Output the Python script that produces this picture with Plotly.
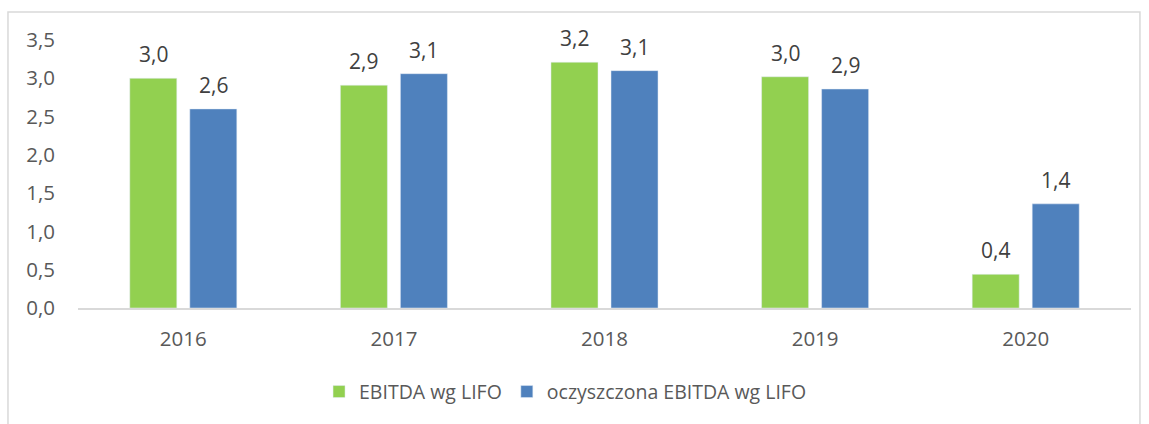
import plotly.graph_objects as go

years = ["2016", "2017", "2018", "2019", "2020"]
ebitda_lifo = [3.0, 2.91, 3.21, 3.02, 0.44]
ebitda_clean = [2.60, 3.06, 3.10, 2.86, 1.36]
series_names = ["EBITDA wg LIFO", "oczyszczona EBITDA wg LIFO"]
y_ticks = [0, 0.5, 1.0, 1.5, 2.0, 2.5, 3.0, 3.5]

GREEN = "#92D050"
BLUE = "#4F81BD"
FONT = "Open Sans"

fig = go.Figure()
fig.add_trace(go.Bar(x=years, y=ebitda_lifo, name=series_names[0], marker_color=GREEN))
fig.add_trace(go.Bar(x=years, y=ebitda_clean, name=series_names[1], marker_color=BLUE))

annotations = []
for vals, shift in ((ebitda_lifo, -30), (ebitda_clean, 30)):
    for i, v in enumerate(vals):
        annotations.append(dict(
            x=i, y=v, xref="x", yref="y", text=f"{v:.1f}".replace(".", ","),
            showarrow=False, yanchor="bottom", xshift=shift, yshift=8,
            font=dict(family=FONT, size=21, color="#404040")))

fig.update_layout(
    width=1149, height=424,
    margin=dict(l=78, r=18, t=40, b=116),
    paper_bgcolor="white", plot_bgcolor="white",
    barmode="group", bargap=0.43, bargroupgap=0.2167,
    separators=", ",
    font=dict(family=FONT, size=20, color="#595959"),
    annotations=annotations,
    legend=dict(orientation="h", x=0.463, xanchor="center", y=-0.313, yanchor="middle",
                font=dict(family=FONT, size=19.5, color="#595959"), itemwidth=30),
    shapes=[dict(type="rect", xref="paper", yref="paper", x0=-0.0665, x1=1.0085,
                 y0=-0.6, y1=1.1045, line=dict(color="#D9D9D9", width=1.5), layer="below")],
)
fig.update_yaxes(range=[0, 3.5], tickvals=y_ticks, tickformat=".1f", showgrid=False,
                 zeroline=False, showline=False, ticklabelstandoff=22, automargin=False,
                 tickfont=dict(family=FONT, size=20.5, color="#595959"))
fig.update_xaxes(type="category", range=[-0.5, 4.5], showline=True, linecolor="#D9D9D9",
                 linewidth=2, showgrid=False, ticks="", ticklabelstandoff=11, automargin=False,
                 tickfont=dict(family=FONT, size=20.5, color="#595959"))

fig.write_html("out.html", config={"displayModeBar": False},
               post_script="document.body.style.margin='0';")
